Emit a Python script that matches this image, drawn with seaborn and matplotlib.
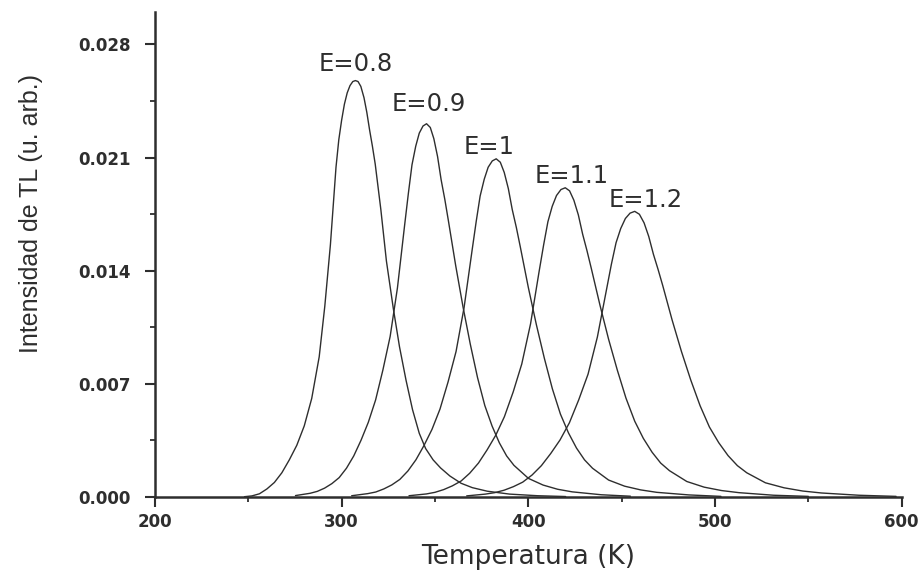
import numpy as np
import matplotlib
matplotlib.use("Agg")
import matplotlib.pyplot as plt
from matplotlib.ticker import MultipleLocator, FormatStrFormatter
import seaborn as sns

# Glow curves: temperature (K) and TL intensity (arb. units) for each trap depth E (eV)
temp_e08 = [248, 252, 256, 260, 264, 268, 272, 276, 280, 284, 288, 291, 294, 297,
            298.5, 300, 301.5, 303, 304.5, 306, 307.4, 308.8, 310.3, 312, 313.5,
            315, 316.5, 318, 321, 324, 327.7, 331, 334.5, 338, 341.6, 345, 349,
            353, 358, 364, 370, 378, 390, 405, 420]
int_e08 = [0.00002, 0.00007, 0.00020, 0.00050, 0.00090, 0.00150, 0.00230, 0.00320,
           0.00440, 0.00610, 0.00867, 0.01180, 0.01560, 0.02040, 0.02210, 0.02330,
           0.02430, 0.02500, 0.02545, 0.02570, 0.02576, 0.02570, 0.02540, 0.02470,
           0.02380, 0.02270, 0.02170, 0.02060, 0.01780, 0.01460, 0.01166, 0.00930,
           0.00723, 0.00540, 0.00394, 0.00300, 0.00230, 0.00180, 0.00130, 0.00085,
           0.00058, 0.00036, 0.00018, 0.00008, 0.00003]

temp_e09 = [275.3, 283.1, 287.0, 290.9, 294.8, 298.7, 302.6, 306.5, 310.4, 314.3,
            318.2, 322.1, 326.0, 329.9, 333.8, 335.8, 337.7, 339.7, 341.6, 343.6,
            345.5, 347.5, 349.4, 351.4, 353.3, 355.3, 357.2, 361.1, 365.0, 368.9,
            372.8, 376.7, 380.6, 384.5, 388.4, 392.3, 400.1, 407.9, 415.7, 423.5,
            439.1, 454.7]
int_e09 = [0.00009, 0.00023, 0.00035, 0.00055, 0.00083, 0.00120, 0.00178, 0.00254,
           0.00351, 0.00462, 0.00600, 0.00785, 0.00993, 0.01293, 0.01686, 0.01882,
           0.02055, 0.02170, 0.02251, 0.02295, 0.02309, 0.02286, 0.02217, 0.02106,
           0.01963, 0.01840, 0.01709, 0.01432, 0.01178, 0.00947, 0.00739, 0.00566,
           0.00439, 0.00335, 0.00254, 0.00196, 0.00115, 0.00074, 0.00048, 0.00032,
           0.00014, 0.00005]

temp_e10 = [305.4, 314.0, 318.3, 322.6, 326.9, 331.2, 335.5, 339.8, 344.1, 348.4,
            352.7, 357.0, 361.3, 365.6, 369.9, 372.1, 374.2, 376.4, 378.5, 380.7,
            382.8, 385.0, 387.1, 389.3, 391.4, 393.6, 395.7, 400.0, 404.3, 408.6,
            412.9, 417.2, 421.5, 425.8, 430.1, 434.4, 443.0, 451.6, 460.2, 468.8,
            486.0, 503.2]
int_e10 = [0.00008, 0.00021, 0.00031, 0.00050, 0.00075, 0.00109, 0.00161, 0.00230,
           0.00318, 0.00418, 0.00544, 0.00711, 0.00900, 0.01172, 0.01527, 0.01705,
           0.01862, 0.01966, 0.02040, 0.02079, 0.02092, 0.02071, 0.02008, 0.01908,
           0.01778, 0.01667, 0.01548, 0.01297, 0.01067, 0.00858, 0.00669, 0.00513,
           0.00397, 0.00303, 0.00230, 0.00178, 0.00105, 0.00067, 0.00044, 0.00029,
           0.00013, 0.00004]

temp_e11 = [336.1, 345.4, 350.0, 354.7, 359.3, 364.0, 368.6, 373.3, 377.9, 382.6,
            387.2, 391.9, 396.5, 401.2, 405.8, 408.2, 410.5, 412.8, 415.1, 417.5,
            419.8, 422.1, 424.4, 426.8, 429.1, 431.4, 433.7, 438.4, 443.0, 447.7,
            452.3, 457.0, 461.6, 466.3, 470.9, 475.6, 484.9, 494.2, 503.5, 512.8,
            531.4, 550.0]
int_e11 = [0.00008, 0.00019, 0.00029, 0.00046, 0.00069, 0.00099, 0.00147, 0.00210,
           0.00291, 0.00383, 0.00497, 0.00650, 0.00823, 0.01071, 0.01396, 0.01559,
           0.01703, 0.01798, 0.01865, 0.01902, 0.01913, 0.01894, 0.01836, 0.01745,
           0.01626, 0.01525, 0.01416, 0.01186, 0.00976, 0.00784, 0.00612, 0.00469,
           0.00363, 0.00277, 0.00210, 0.00163, 0.00096, 0.00061, 0.00040, 0.00027,
           0.00011, 0.00004]

temp_e12 = [367, 377, 382, 387, 392, 397, 402, 407, 412, 417, 422, 427, 432, 437,
            442, 444.5, 447, 449.5, 452, 454.5, 457, 459.5, 462, 464.5, 467, 469.5,
            472, 477, 482, 487, 492, 497, 502, 507, 512, 517, 527, 537, 547, 557,
            577, 597]
int_e12 = [0.00007, 0.00018, 0.00027, 0.00042, 0.00064, 0.00092, 0.00136, 0.00194,
           0.00269, 0.00353, 0.00459, 0.00601, 0.00760, 0.00990, 0.01290, 0.01440,
           0.01573, 0.01661, 0.01723, 0.01756, 0.01767, 0.01749, 0.01696, 0.01612,
           0.01502, 0.01408, 0.01308, 0.01096, 0.00901, 0.00724, 0.00565, 0.00433,
           0.00336, 0.00256, 0.00194, 0.00150, 0.00088, 0.00057, 0.00037, 0.00025,
           0.00011, 0.00004]

curve_labels = ["E=0.8", "E=0.9", "E=1", "E=1.1", "E=1.2"]
x_ticks = [200, 300, 400, 500, 600]
y_ticks = [0.000, 0.007, 0.014, 0.021, 0.028]

sns.set_theme(style="ticks")
plt.rcParams["font.family"] = ["Liberation Sans", "DejaVu Sans"]

ink = "#2e2e2e"
wide_font = "DejaVu Sans"

fig, ax = plt.subplots(figsize=(9.22, 5.73), dpi=100)
fig.patch.set_facecolor("white")
ax.set_facecolor("white")
fig.subplots_adjust(left=0.168, right=0.978, bottom=0.1326, top=0.979)

curves = [(temp_e08, int_e08), (temp_e09, int_e09), (temp_e10, int_e10),
          (temp_e11, int_e11), (temp_e12, int_e12)]
for t, i in curves:
    sns.lineplot(x=t, y=i, ax=ax, color=ink, linewidth=1.0, sort=False)

# peak labels sit just above each maximum
label_offsets = [(0, 7), (1.5, 9.5), (-5, 3.5), (4.5, 3.5), (8, 3)]
for (t, i), lab, off in zip(curves, curve_labels, label_offsets):
    k = int(np.argmax(i))
    ax.annotate(lab, xy=(t[k], i[k]), xytext=off, textcoords="offset points",
                ha="center", va="baseline", fontsize=17.5, color=ink,
                family=wide_font)

ax.set_xlim(200, 600)
ax.set_ylim(0, 0.030)
ax.set_xticks(x_ticks)
ax.set_yticks(y_ticks)
ax.xaxis.set_minor_locator(MultipleLocator(50))
ax.yaxis.set_minor_locator(MultipleLocator(0.0035))
ax.yaxis.set_major_formatter(FormatStrFormatter("%.3f"))

sns.despine(ax=ax)
for side in ("left", "bottom"):
    ax.spines[side].set_linewidth(1.8)
    ax.spines[side].set_color(ink)

ax.tick_params(which="major", direction="out", length=7.2, width=1.5,
               colors=ink, labelsize=12)
ax.tick_params(which="minor", direction="out", length=3.6, width=1.3, colors=ink)
ax.tick_params(axis="y", which="major", pad=10)
ax.tick_params(axis="x", which="major", pad=4)
for lbl in ax.get_xticklabels() + ax.get_yticklabels():
    lbl.set_family(wide_font)
    lbl.set_fontweight("bold")

ax.set_xlabel("Temperatura (K)", fontsize=19, color=ink, family=wide_font)
ax.set_ylabel("Intensidad de TL (u. arb.)", fontsize=18, color=ink)
ax.xaxis.set_label_coords(0.5, -0.097)
ax.yaxis.set_label_coords(-0.150, 0.584)

fig.savefig("out.png", dpi=100)
